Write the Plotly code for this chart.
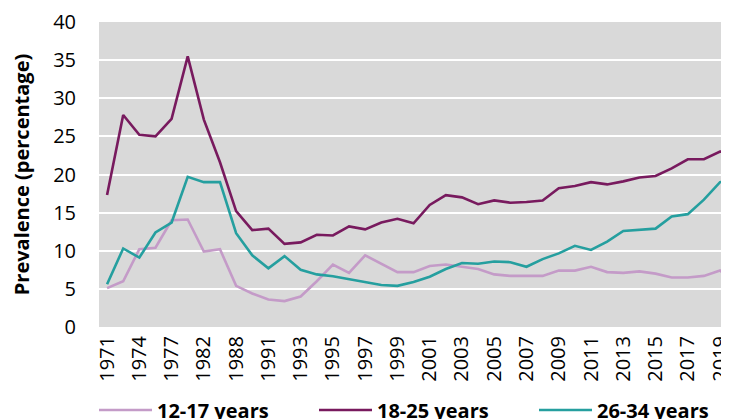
import plotly.graph_objects as go

years = ["1971", "1972", "1974", "1976", "1977", "1979", "1982", "1985", "1988", "1990",
         "1991", "1992", "1993", "1994", "1995", "1996", "1997", "1998", "1999", "2000",
         "2001", "2002", "2003", "2004", "2005", "2006", "2007", "2008", "2009", "2010",
         "2011", "2012", "2013", "2014", "2015", "2016", "2017", "2018", "2019", "2020"]

age_12_17 = [5.1, 6.0, 10.2, 10.4, 14.0, 14.1, 9.9, 10.2, 5.4, 4.4,
             3.6, 3.4, 4.0, 6.0, 8.2, 7.1, 9.4, 8.3, 7.2, 7.2,
             8.0, 8.2, 7.9, 7.6, 6.9, 6.7, 6.7, 6.7, 7.4, 7.4,
             7.9, 7.2, 7.1, 7.3, 7.0, 6.5, 6.5, 6.7, 7.4, 5.6]

age_18_25 = [17.3, 27.8, 25.2, 25.0, 27.3, 35.5, 27.2, 21.6, 15.2, 12.7,
             12.9, 10.9, 11.1, 12.1, 12.0, 13.2, 12.8, 13.7, 14.2, 13.6,
             16.0, 17.3, 17.0, 16.1, 16.6, 16.3, 16.4, 16.6, 18.2, 18.5,
             19.0, 18.7, 19.1, 19.6, 19.8, 20.8, 22.0, 22.0, 23.0, 23.1]

age_26_34 = [5.6, 10.3, 9.1, 12.4, 13.7, 19.7, 19.0, 19.0, 12.3, 9.4,
             7.7, 9.3, 7.5, 6.9, 6.65, 6.3, 5.9, 5.5, 5.4, 5.9,
             6.6, 7.6, 8.4, 8.3, 8.6, 8.5, 7.9, 8.9, 9.65, 10.65,
             10.1, 11.2, 12.6, 12.7, 12.9, 14.5, 14.8, 16.7, 19.0, 19.3]

series_names = ["12-17 years", "18-25 years", "26-34 years"]
colors = ["#c49bc8", "#781a5e", "#259f9f"]
legend_ids = ["legend", "legend2", "legend3"]
legend_x_px = [86, 306, 526]

font_family = "Open Sans, Noto Sans, sans-serif"
W, H = 729, 419
L, T, B = 91, 14, 100

fig = go.Figure()
for name, vals, col, lg in zip(series_names, [age_12_17, age_18_25, age_26_34], colors, legend_ids):
    fig.add_trace(go.Scatter(x=years, y=vals, mode="lines", name=name, legend=lg,
                             line=dict(color=col, width=2.6)))

layout_legends = {}
for lg, px in zip(legend_ids, legend_x_px):
    layout_legends[lg] = dict(
        orientation="h", x=(px - L) / (W - L), xanchor="left",
        yref="container", y=0.0406, yanchor="middle",
        font=dict(size=20, color="black", family=font_family, weight="bold"),
        itemwidth=53, bgcolor="rgba(0,0,0,0)",
    )

fig.update_layout(
    width=W, height=H,
    margin=dict(l=L, r=0, t=T, b=B, autoexpand=False),
    paper_bgcolor="white",
    plot_bgcolor="#d9d9d9",
    font=dict(family=font_family, size=20, color="black"),
    showlegend=True,
    **layout_legends,
)

fig.update_xaxes(type="category", categoryorder="array", categoryarray=years,
                 range=[-0.5, 39.05], tickmode="array", tickvals=years[::2],
                 ticktext=years[::2], tickangle=-90, showgrid=False, zeroline=False,
                 showline=False, ticks="", ticklabelstandoff=4, automargin=False,
                 tickfont=dict(size=20))

fig.update_yaxes(range=[0, 40], dtick=5, showgrid=True, gridcolor="white", gridwidth=1.5,
                 zeroline=False, showline=False, ticks="", ticklabelstandoff=22,
                 automargin=False, tickfont=dict(size=20),
                 title=dict(text="<b>Prevalence (percentage)</b>", standoff=18,
                            font=dict(size=20)))

fig.write_html("out.html")
